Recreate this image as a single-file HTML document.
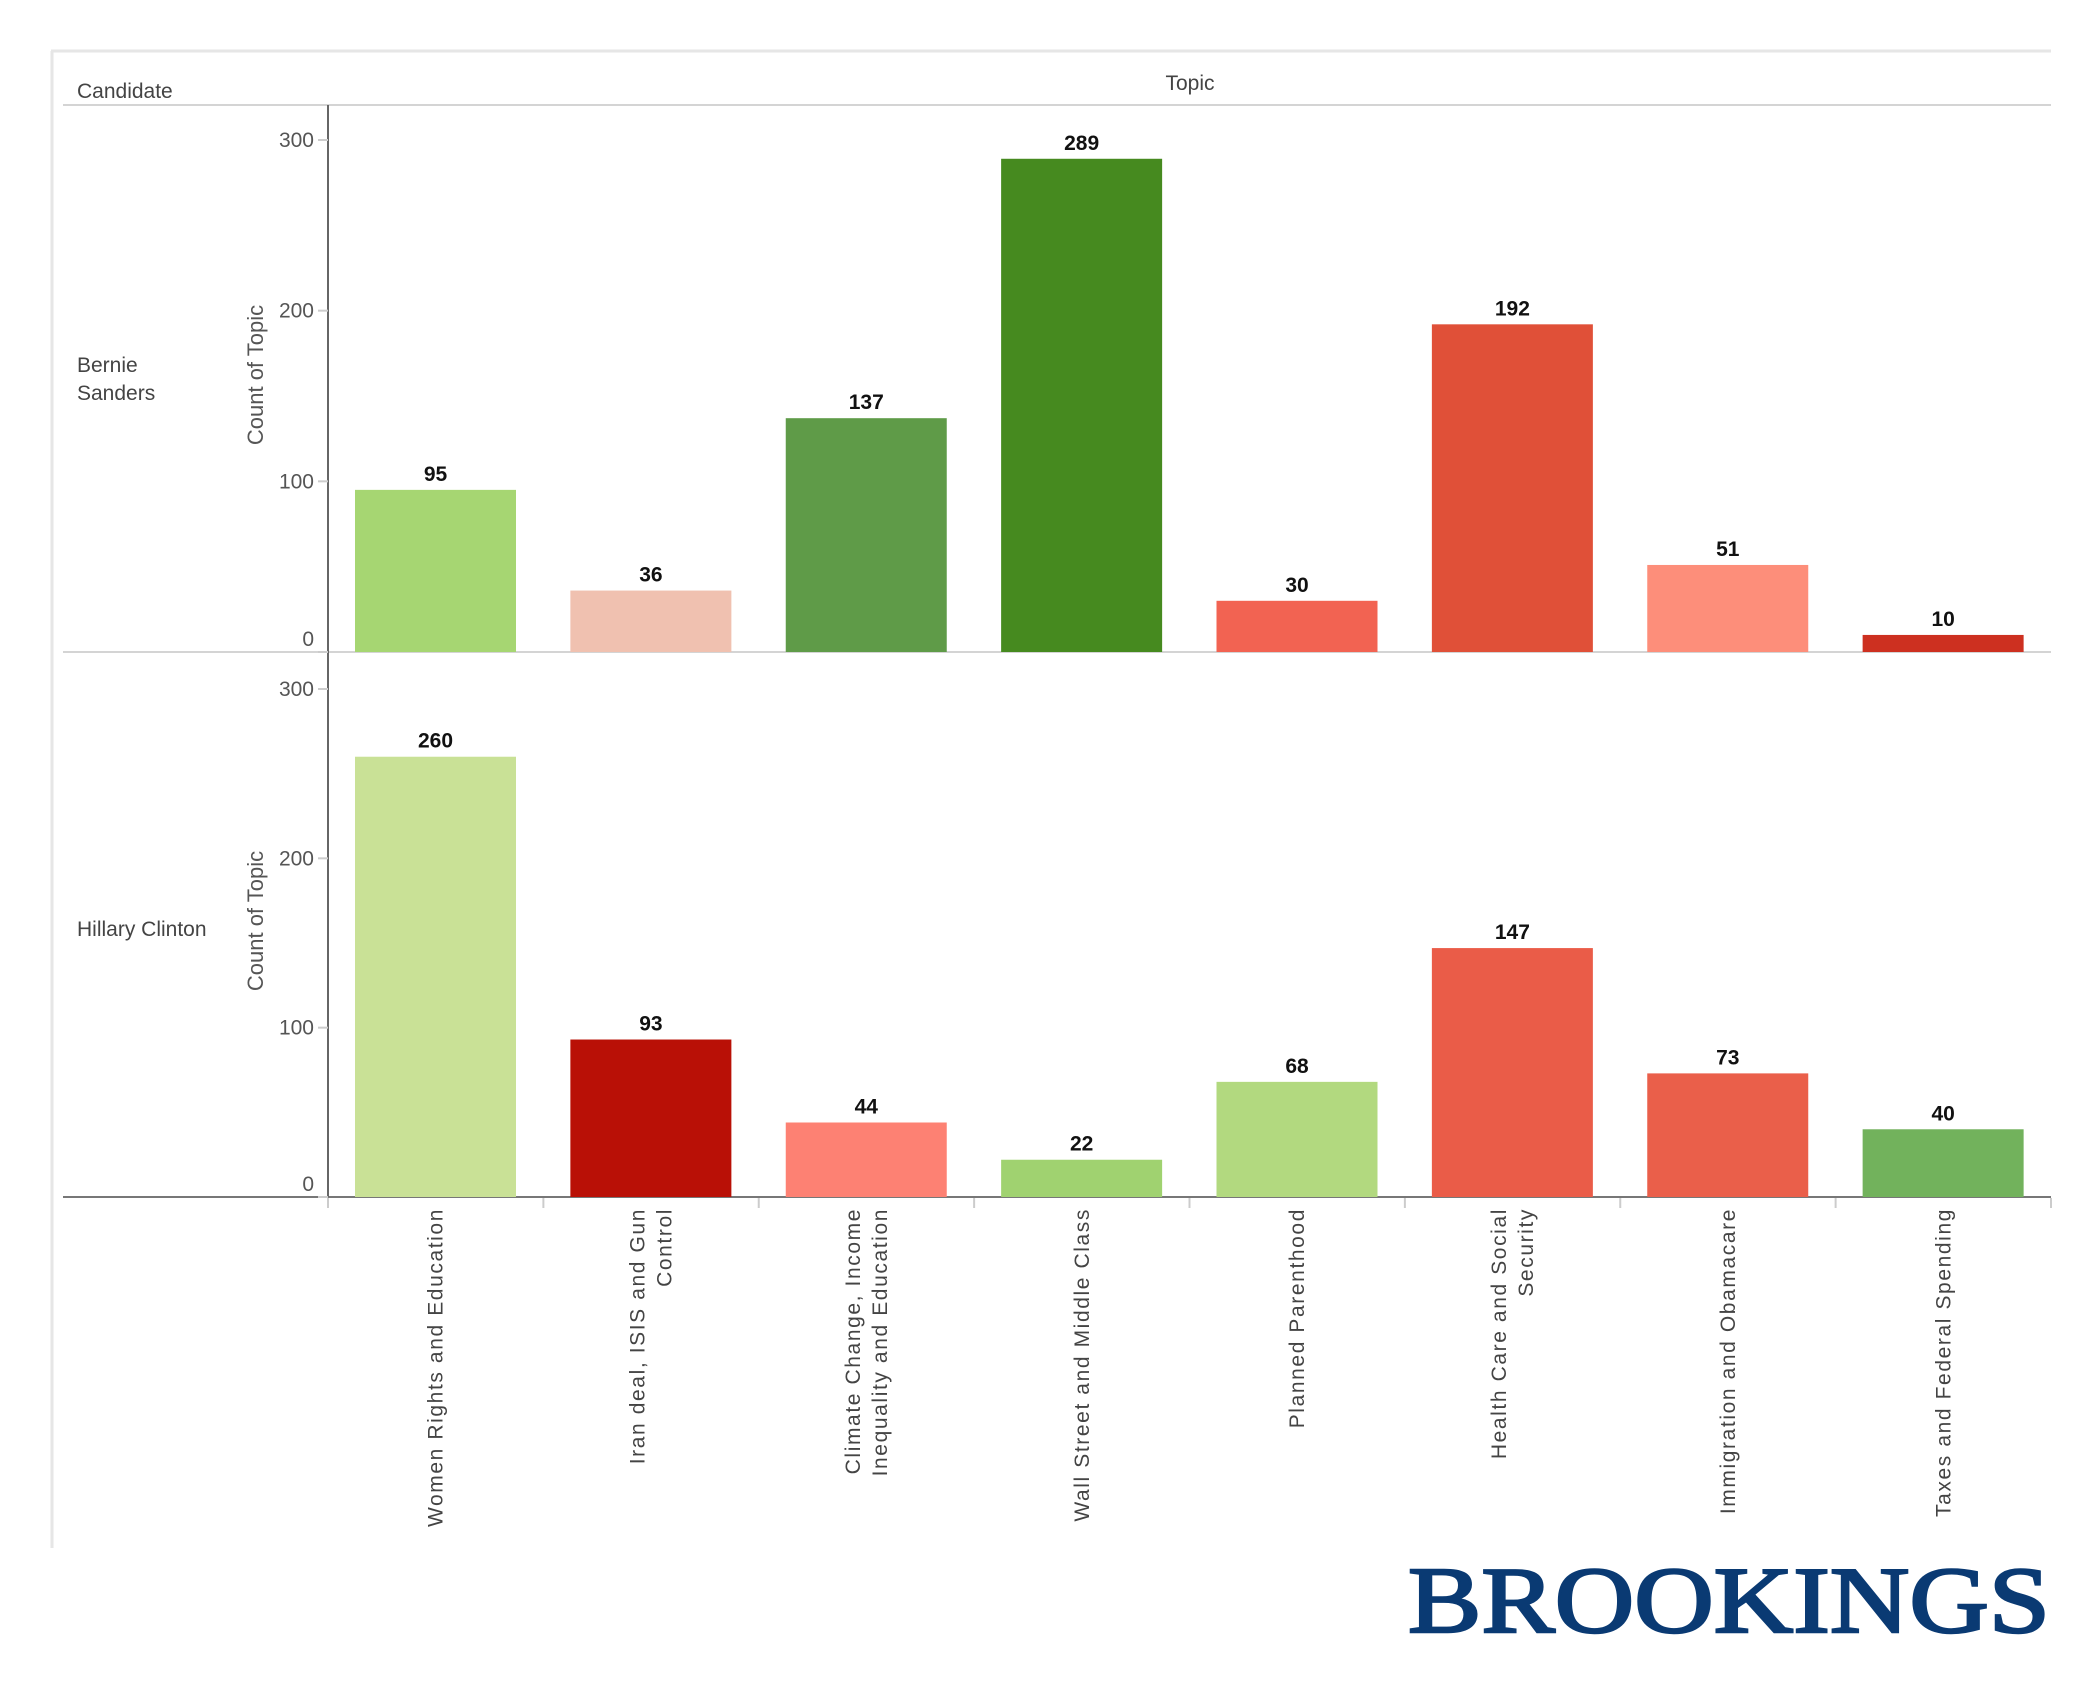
<!DOCTYPE html>
<html><head><meta charset="utf-8">
<style>
html,body{margin:0;padding:0;background:#fff;}
svg{display:block;font-family:"Liberation Sans",Arial,sans-serif;}
</style></head>
<body>
<svg id="chart" width="2100" height="1686" viewBox="0 0 2100 1686" xmlns="http://www.w3.org/2000/svg">
  <rect x="0" y="0" width="2100" height="1686" fill="#fff"/>
  <line x1="51" y1="51" x2="2051" y2="51" stroke="#e6e6e6" stroke-width="3"/>
  <line x1="52" y1="51" x2="52" y2="1548" stroke="#e6e6e6" stroke-width="3"/>
  <text x="77" y="98" font-size="21" fill="#444">Candidate</text>
  <text x="1190" y="90" font-size="21" fill="#444" text-anchor="middle">Topic</text>
  <line x1="63" y1="105" x2="2051" y2="105" stroke="#d4d4d4" stroke-width="2"/>
  <line x1="63" y1="652" x2="2051" y2="652" stroke="#d4d4d4" stroke-width="2"/>
  <line x1="63" y1="1197" x2="2051" y2="1197" stroke="#777" stroke-width="2"/>
  <line x1="328" y1="105" x2="328" y2="1197" stroke="#666" stroke-width="2"/>
  <text font-size="21" fill="#444"><tspan x="77" y="372">Bernie</tspan><tspan x="77" y="400">Sanders</tspan></text>
  <text x="77" y="936" font-size="21" fill="#444">Hillary Clinton</text>
  <g id="marks"></g>
  <text x="1408" y="1632" font-family="Liberation Serif, serif" font-size="94" font-weight="normal" fill="#0a3a73" stroke="#0a3a73" stroke-width="2.5" textLength="642" lengthAdjust="spacingAndGlyphs">BROOKINGS</text>
</svg>
<script>
const topics = [["Women Rights and Education"],["Iran deal, ISIS and Gun","Control"],["Climate Change, Income","Inequality and Education"],["Wall Street and Middle Class"],["Planned Parenthood"],["Health Care and Social","Security"],["Immigration and Obamacare"],["Taxes and Federal Spending"]];
const bernieValues = [95,36,137,289,30,192,51,10];
const hillaryValues = [260,93,44,22,68,147,73,40];
const bernieColors = ["#a6d672","#f0c1b0","#5f9b48","#468a1f","#f26352","#e05038","#fd8e7a","#cd3020"];
const hillaryColors = ["#c9e196","#b91006","#fd8173","#a0d270","#b2d97f","#ea5c48","#ea5f4a","#72b25c"];
const yTicks = [0,100,200,300];

const NS = "http://www.w3.org/2000/svg";
const g = document.getElementById('marks');
const x0 = 328, band = (2051-328)/8, barOff = 27, barW = 161;
function xBand(i){ return x0 + i*band; }
function mk(tag, attrs){ const e=document.createElementNS(NS,tag); for(const k in attrs) e.setAttribute(k,attrs[k]); g.appendChild(e); return e; }

const panels = [
  {name:'bernie', base:652, scale:512/300, values:bernieValues, colors:bernieColors, titleY:375},
  {name:'hillary', base:1197, scale:508/300, values:hillaryValues, colors:hillaryColors, titleY:921}
];
panels.forEach(p=>{
  const y = v => p.base - v*p.scale;
  yTicks.forEach(t=>{
    const tl = mk('line',{x1:318,x2:328,y1:y(t),y2:y(t),stroke:'#ccc','stroke-width':2});
    
    
    const tx = mk('text',{x:314,y:(t===0? y(t)-6 : y(t)+7),'font-size':21,fill:'#555','text-anchor':'end'});
    tx.textContent = t;
    
    
  });
  const at = mk('text',{x:0,y:0,'font-size':22,fill:'#555','text-anchor':'middle',transform:`translate(263,${p.titleY}) rotate(-90)`});
  at.textContent = 'Count of Topic';
  
  
  p.values.forEach((v,i)=>{
    const bx = xBand(i)+barOff;
    const r = mk('rect',{x:bx,y:y(v),width:barW,height:v*p.scale,fill:p.colors[i]});
    
    
    const lt = mk('text',{x:bx+barW/2,y:y(v)-9,'font-size':21,'font-weight':'bold',fill:'#111','text-anchor':'middle'});
    lt.textContent = v;
    
    
  });
});
for(let i=0;i<=8;i++){
  const tk = mk('line',{x1:xBand(i),x2:xBand(i),y1:1198,y2:1208,stroke:'#ccc','stroke-width':2});
  
  
}
topics.forEach((lines,i)=>{
  const cx = xBand(i)+band/2;
  const n = lines.length, lh = 27;
  lines.forEach((ln,j)=>{
    const lx = cx + (j-(n-1)/2)*lh + 7;
    const t = mk('text',{x:0,y:0,'font-size':21,fill:'#444','text-anchor':'end','letter-spacing':'1.6',transform:`translate(${lx},1208) rotate(-90)`});
    t.textContent = ln;
    
    
  });
});
</script>
</body></html>
